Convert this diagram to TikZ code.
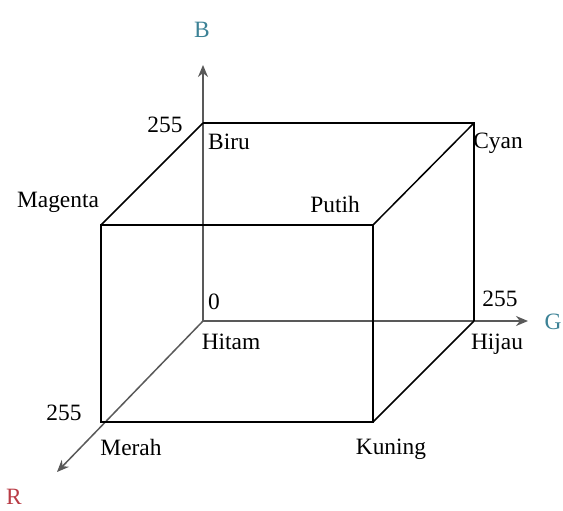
\documentclass[tikz,border=0pt]{standalone}
\usepackage{fontspec}
\setmainfont{Liberation Serif}
\usepackage{xcolor}
\usepackage{tikz}
\usetikzlibrary{arrows.meta}

\definecolor{axisteal}{RGB}{60,130,150}
\definecolor{axisred}{RGB}{185,60,70}

\begin{document}
\begin{tikzpicture}[
        x=0.5pt, y=-0.5pt,
        font=\fontsize{11.7}{14}\selectfont,
        edge/.style={draw=black, line width=0.75pt},
        axis/.style={draw=black!65, line width=0.75pt, -{Stealth[length=6pt, width=5pt]}},
        lbl/.style={inner sep=0pt},
        axlbl/.style={inner sep=0pt, text=#1},
        axlbl/.default=axisteal,
    ]
    \useasboundingbox (0,0) rectangle (563,510);

    % ---- Corners of the colour cube ----
    \coordinate (hitam) at (203,321);
    \coordinate (biru) at (203,123);
    \coordinate (cyan) at (474,123);
    \coordinate (hijau) at (474,321);
    \coordinate (merah) at (101,422);
    \coordinate (magenta) at (101,225);
    \coordinate (putih) at (373,225);
    \coordinate (kuning) at (373,422);

    % ---- Axis tips ----
    \coordinate (tipB) at (203,65);
    \coordinate (tipG) at (528,321);
    \coordinate (tipR) at (57,472);

    % ---- Axes ----
    \draw[axis] (hitam) -- (tipB);
    \draw[axis] (hitam) -- (tipG);
    \draw[axis] (hitam) -- (tipR);

    % ---- Cube edges ----
    \draw[edge] (biru) -- (cyan) -- (hijau);
    \draw[edge] (magenta) -- (putih) -- (kuning) -- (merah) -- cycle;
    \draw[edge] (biru) -- (magenta);
    \draw[edge] (cyan) -- (putih);
    \draw[edge] (hijau) -- (kuning);

    % ---- Axis names ----
    \node[axlbl] (nameB) at (202,30) {B};
    \node[axlbl] (nameG) at (553,322) {G};
    \node[axlbl=axisred] (nameR) at (14,497) {R};

    % ---- Scale values ----
    \node[lbl] (valB) at (165,125) {255};
    \node[lbl] (valO) at (214,302) {0};
    \node[lbl] (valG) at (500,299) {255};
    \node[lbl] (valR) at (64,413) {255};

    % ---- Colour names ----
    \node[lbl] (txtBiru) at (229,142) {Biru};
    \node[lbl] (txtCyan) at (498,143) {Cyan};
    \node[lbl] (txtMagenta) at (58,202) {Magenta};
    \node[lbl] (txtPutih) at (335,204) {Putih};
    \node[lbl] (txtHitam) at (231,342) {Hitam};
    \node[lbl] (txtHijau) at (497,344) {Hijau};
    \node[lbl] (txtMerah) at (131,447) {Merah};
    \node[lbl] (txtKuning) at (391,449) {Kuning};
\end{tikzpicture}
\end{document}
